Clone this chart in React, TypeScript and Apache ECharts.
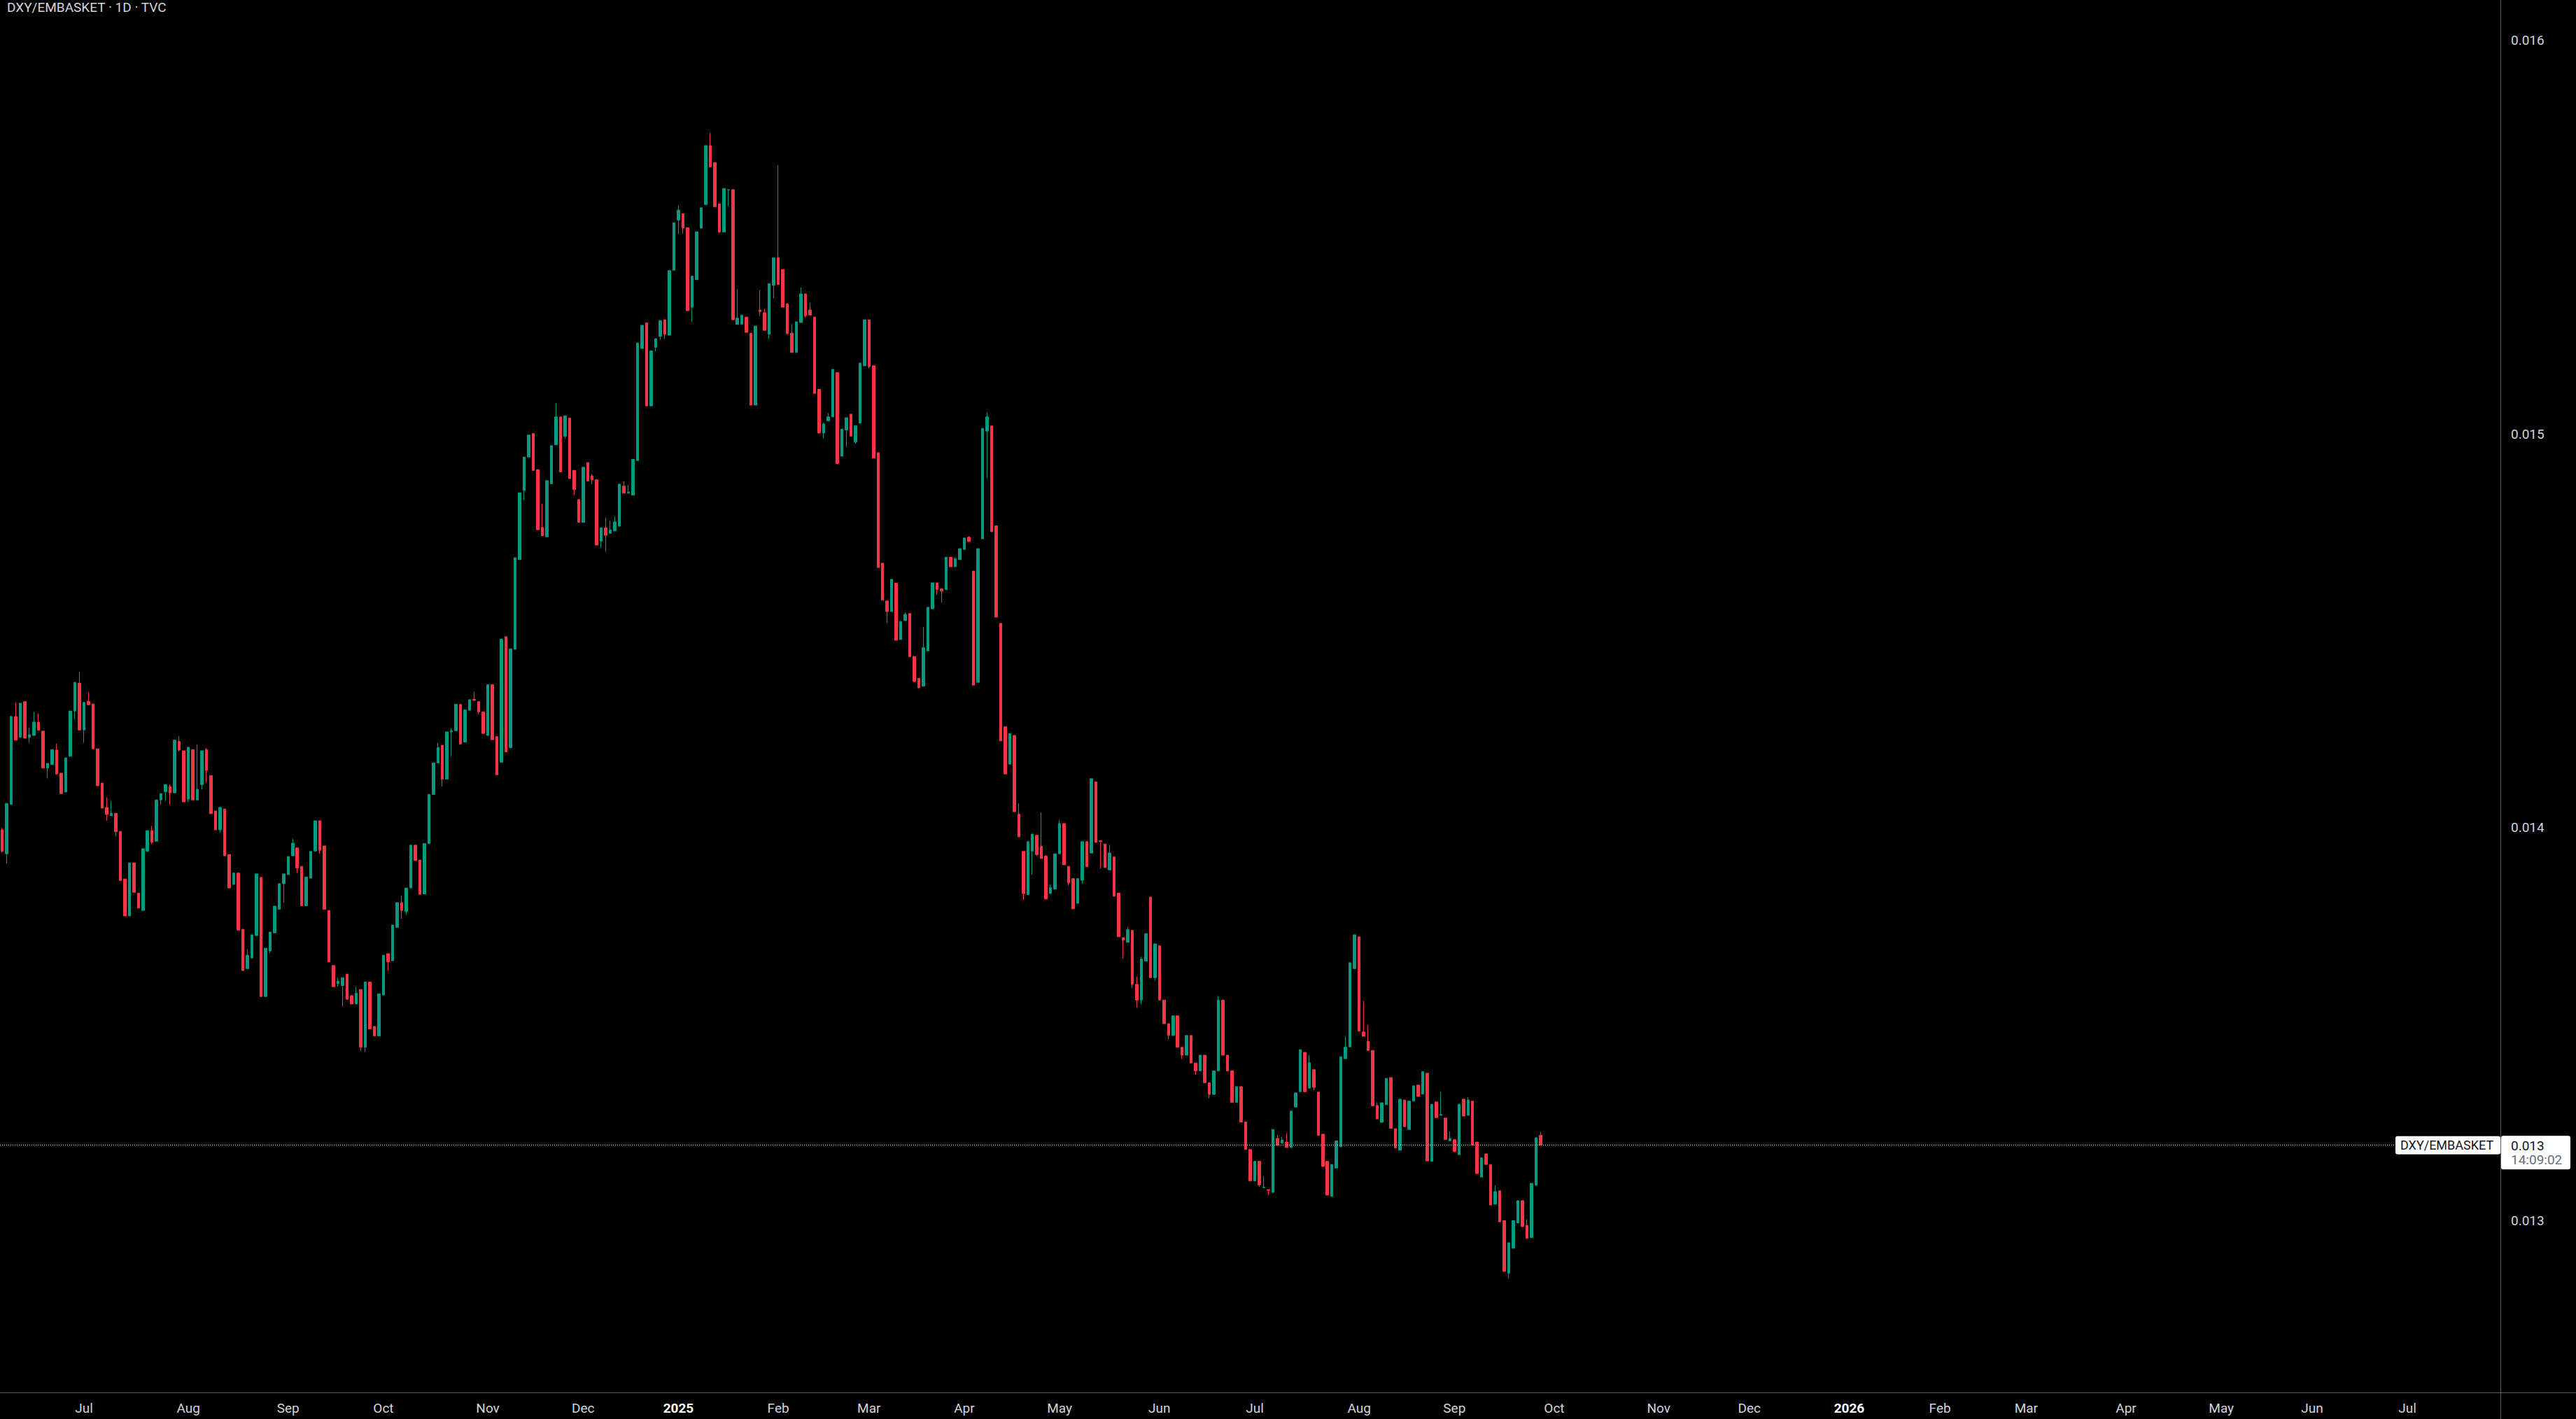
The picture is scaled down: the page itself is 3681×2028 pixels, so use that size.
import React, { useEffect, useRef } from "react";
import * as echarts from "echarts";

// ---------- text ----------
const TITLE = "DXY/EMBASKET · 1D · TVC";
const SYMBOL = "DXY/EMBASKET";
const COUNTDOWN = "14:09:02";
const MONTHS = ["Jan", "Feb", "Mar", "Apr", "May", "Jun", "Jul", "Aug", "Sep", "Oct", "Nov", "Dec"];

// ---------- axes ----------
const Y_TICKS = [0.013, 0.014, 0.015, 0.016];
const Y_MIN = 0.0125623;
const Y_MAX = 0.0161032;

// ---------- trading-day calendar ----------
const FIRST_DAY = "2024-06-05";
const SLOT_COUNT = 551; // daily slots incl. the empty future area
const HOLIDAYS = [
  "2024-12-25", "2025-01-01", "2025-04-18", "2025-12-25", "2026-01-01",
  "2026-01-19", "2026-02-16", "2026-04-03", "2026-05-25", "2026-06-19",
];

// ---------- OHLC (one value per trading day, from 2024-06-05) ----------
const open = [
  0.013993,0.013932,0.014058,0.014281,0.014228,0.014319,0.014228,0.014233,0.014267,0.014244,
  0.014150,0.014159,0.014196,0.014137,0.014089,0.014180,0.014295,0.014366,0.014247,0.014320,
  0.014313,0.014199,0.014112,0.014050,0.014029,0.014035,0.013989,0.013868,0.013774,0.013909,
  0.013832,0.013788,0.013939,0.013991,0.013964,0.014069,0.014090,0.014103,0.014087,0.014218,
  0.014194,0.014071,0.014197,0.014069,0.014108,0.014197,0.014131,0.014041,0.013993,0.014046,
  0.013930,0.013854,0.013883,0.013740,0.013640,0.013667,0.013724,0.013872,0.013569,0.013685,
  0.013731,0.013791,0.013856,0.013879,0.013927,0.013947,0.013900,0.013800,0.013870,0.013939,
  0.014016,0.013952,0.013788,0.013648,0.013602,0.013597,0.013626,0.013571,0.013550,0.013587,
  0.013440,0.013606,0.013493,0.013469,0.013573,0.013678,0.013660,0.013745,0.013808,0.013785,
  0.013845,0.013954,0.013916,0.013830,0.013958,0.014083,0.014163,0.014208,0.014122,0.014242,
  0.014245,0.014312,0.014216,0.014297,0.014325,0.014319,0.014293,0.014233,0.014362,0.014230,
  0.014165,0.014484,0.014202,0.014452,0.014680,0.014856,0.014941,0.015001,0.014909,0.014762,
  0.014738,0.014873,0.014972,0.015043,0.014994,0.015040,0.014907,0.014833,0.014775,0.014927,
  0.014893,0.014883,0.014727,0.014761,0.014747,0.014753,0.014765,0.014867,0.014849,0.014844,
  0.014932,0.015217,0.015282,0.015071,0.015220,0.015248,0.015290,0.015251,0.015416,0.015543,
  0.015560,0.015524,0.015322,0.015392,0.015523,0.015583,0.015733,0.015690,0.015585,0.015513,
  0.015620,0.015621,0.015278,0.015279,0.015297,0.015256,0.015073,0.015315,0.015308,0.015253,
  0.015378,0.015448,0.015418,0.015331,0.015256,0.015207,0.015283,0.015356,0.015315,0.015297,
  0.015113,0.015002,0.015033,0.015043,0.015156,0.014943,0.015010,0.015050,0.014979,0.015027,
  0.015173,0.015290,0.015173,0.014952,0.014671,0.014575,0.014548,0.014620,0.014477,0.014525,
  0.014543,0.014434,0.014378,0.014358,0.014448,0.014555,0.014621,0.014606,0.014604,0.014686,
  0.014662,0.014680,0.014706,0.014737,0.014651,0.014368,0.014733,0.015007,0.015020,0.014766,
  0.014518,0.014255,0.014160,0.014233,0.014033,0.013938,0.013828,0.013939,0.013979,0.013951,
  0.013926,0.013831,0.013842,0.013932,0.014009,0.013900,0.013869,0.013806,0.013865,0.013963,
  0.013934,0.014115,0.013965,0.013957,0.013891,0.013924,0.013832,0.013719,0.013707,0.013737,
  0.013600,0.013560,0.013659,0.013822,0.013617,0.013698,0.013560,0.013500,0.013470,0.013520,
  0.013440,0.013420,0.013470,0.013400,0.013380,0.013420,0.013350,0.013320,0.013380,0.013560,
  0.013420,0.013380,0.013300,0.013340,0.013250,0.013180,0.013100,0.013150,0.013083,0.013078,
  0.013071,0.013208,0.013196,0.013199,0.013185,0.013288,0.013327,0.013427,0.013336,0.013383,
  0.013326,0.013219,0.013150,0.013061,0.013133,0.013187,0.013411,0.013441,0.013640,0.013721,
  0.013479,0.013455,0.013432,0.013292,0.013249,0.013294,0.013363,0.013233,0.013178,0.013306,
  0.013231,0.013303,0.013344,0.013321,0.013374,0.013150,0.013301,0.013267,0.013260,0.013202,
  0.013205,0.013167,0.013308,0.013267,0.013303,0.013199,0.013110,0.013169,0.013142,0.013041,
  0.013075,0.012999,0.012865,0.012929,0.012993,0.013050,0.012987,0.012956,0.013089,0.013216,
];

const close = [
  0.013938,0.014060,0.014281,0.014221,0.014315,0.014226,0.014235,0.014267,0.014246,0.014150,
  0.014162,0.014197,0.014135,0.014085,0.014176,0.014295,0.014368,0.014247,0.014317,0.014311,
  0.014199,0.014105,0.014048,0.014032,0.014035,0.013988,0.013864,0.013774,0.013909,0.013834,
  0.013794,0.013945,0.013991,0.013961,0.014069,0.014085,0.014108,0.014087,0.014221,0.014196,
  0.014064,0.014203,0.014069,0.014096,0.014194,0.014144,0.014034,0.013993,0.014050,0.013927,
  0.013845,0.013883,0.013738,0.013635,0.013674,0.013726,0.013881,0.013569,0.013692,0.013733,
  0.013799,0.013856,0.013881,0.013925,0.013959,0.013896,0.013800,0.013873,0.013938,0.014016,
  0.013941,0.013791,0.013657,0.013594,0.013608,0.013617,0.013562,0.013550,0.013578,0.013440,
  0.013606,0.013487,0.013469,0.013576,0.013674,0.013657,0.013751,0.013808,0.013788,0.013845,
  0.013954,0.013915,0.013829,0.013958,0.014083,0.014163,0.014202,0.014122,0.014242,0.014245,
  0.014312,0.014211,0.014298,0.014324,0.014322,0.014293,0.014238,0.014362,0.014222,0.014133,
  0.014478,0.014191,0.014453,0.014685,0.014850,0.014941,0.014997,0.014907,0.014756,0.014741,
  0.014881,0.014970,0.015043,0.014903,0.015046,0.014886,0.014858,0.014775,0.014915,0.014880,
  0.014883,0.014717,0.014761,0.014742,0.014756,0.014776,0.014872,0.014849,0.014852,0.014935,
  0.015231,0.015276,0.015071,0.015211,0.015242,0.015288,0.015253,0.015415,0.015537,0.015569,
  0.015523,0.015313,0.015401,0.015514,0.015575,0.015733,0.015679,0.015577,0.015513,0.015624,
  0.015621,0.015290,0.015294,0.015302,0.015258,0.015073,0.015274,0.015311,0.015263,0.015382,
  0.015448,0.015380,0.015322,0.015255,0.015207,0.015285,0.015356,0.015300,0.015302,0.015103,
  0.015002,0.015025,0.015043,0.015164,0.014924,0.015012,0.015041,0.014994,0.015021,0.015180,
  0.015290,0.015171,0.014938,0.014660,0.014577,0.014548,0.014630,0.014475,0.014522,0.014541,
  0.014433,0.014370,0.014354,0.014456,0.014559,0.014621,0.014604,0.014600,0.014686,0.014662,
  0.014682,0.014708,0.014735,0.014726,0.014361,0.014708,0.015014,0.015043,0.014751,0.014534,
  0.014219,0.014135,0.014238,0.014039,0.013975,0.013831,0.013963,0.013982,0.013930,0.013920,
  0.013817,0.013846,0.013932,0.014009,0.013904,0.013858,0.013792,0.013869,0.013963,0.013899,
  0.014123,0.013961,0.013963,0.013897,0.013934,0.013824,0.013721,0.013712,0.013739,0.013600,
  0.013560,0.013664,0.013729,0.013617,0.013703,0.013560,0.013500,0.013470,0.013520,0.013440,
  0.013420,0.013470,0.013400,0.013380,0.013420,0.013350,0.013320,0.013380,0.013560,0.013420,
  0.013380,0.013300,0.013340,0.013250,0.013180,0.013100,0.013150,0.013090,0.013084,0.013076,
  0.013231,0.013191,0.013204,0.013185,0.013278,0.013324,0.013434,0.013327,0.013401,0.013338,
  0.013216,0.013137,0.013064,0.013142,0.013202,0.013416,0.013440,0.013655,0.013726,0.013481,
  0.013468,0.013432,0.013291,0.013258,0.013299,0.013361,0.013234,0.013184,0.013308,0.013238,
  0.013303,0.013342,0.013315,0.013378,0.013151,0.013295,0.013261,0.013269,0.013205,0.013208,
  0.013175,0.013295,0.013265,0.013306,0.013191,0.013119,0.013159,0.013142,0.013039,0.013073,
  0.012996,0.012870,0.012943,0.012999,0.013050,0.012984,0.012954,0.013094,0.013210,0.013191,
];

const high = [
  0.013998,0.014060,0.014283,0.014317,0.014315,0.014319,0.014253,0.014293,0.014288,0.014244,
  0.014162,0.014197,0.014212,0.014137,0.014176,0.014295,0.014368,0.014394,0.014317,0.014343,
  0.014313,0.014199,0.014112,0.014076,0.014066,0.014035,0.013989,0.013868,0.013909,0.013909,
  0.013832,0.013945,0.013991,0.014003,0.014069,0.014085,0.014108,0.014108,0.014221,0.014231,
  0.014194,0.014203,0.014197,0.014210,0.014194,0.014201,0.014131,0.014041,0.014050,0.014046,
  0.013930,0.013884,0.013883,0.013740,0.013689,0.013726,0.013881,0.013872,0.013692,0.013733,
  0.013799,0.013856,0.013881,0.013925,0.013970,0.013947,0.013900,0.013873,0.013938,0.014016,
  0.014016,0.013952,0.013788,0.013648,0.013616,0.013617,0.013626,0.013574,0.013593,0.013587,
  0.013606,0.013606,0.013493,0.013576,0.013674,0.013678,0.013751,0.013808,0.013826,0.013845,
  0.013954,0.013954,0.013916,0.013958,0.014083,0.014163,0.014214,0.014208,0.014242,0.014251,
  0.014312,0.014312,0.014298,0.014324,0.014344,0.014319,0.014293,0.014362,0.014362,0.014230,
  0.014478,0.014484,0.014453,0.014685,0.014850,0.014941,0.014997,0.015001,0.014909,0.014822,
  0.014881,0.014970,0.015078,0.015043,0.015046,0.015040,0.014907,0.014833,0.014915,0.014927,
  0.014898,0.014883,0.014761,0.014787,0.014779,0.014790,0.014872,0.014879,0.014870,0.014935,
  0.015231,0.015276,0.015282,0.015211,0.015242,0.015288,0.015290,0.015415,0.015537,0.015581,
  0.015560,0.015524,0.015401,0.015514,0.015575,0.015733,0.015765,0.015690,0.015585,0.015624,
  0.015621,0.015621,0.015368,0.015302,0.015297,0.015256,0.015274,0.015365,0.015318,0.015382,
  0.015448,0.015683,0.015418,0.015331,0.015279,0.015285,0.015372,0.015356,0.015333,0.015297,
  0.015113,0.015029,0.015053,0.015164,0.015156,0.015012,0.015041,0.015050,0.015021,0.015180,
  0.015290,0.015290,0.015173,0.014952,0.014671,0.014575,0.014630,0.014620,0.014525,0.014546,
  0.014543,0.014434,0.014378,0.014509,0.014559,0.014621,0.014621,0.014606,0.014686,0.014686,
  0.014686,0.014708,0.014735,0.014740,0.014651,0.014708,0.015014,0.015055,0.015020,0.014766,
  0.014518,0.014255,0.014238,0.014233,0.014060,0.013938,0.013963,0.013982,0.013979,0.014037,
  0.013929,0.013854,0.013932,0.014018,0.014009,0.013900,0.013869,0.013869,0.013963,0.013963,
  0.014123,0.014115,0.013965,0.013957,0.013955,0.013924,0.013832,0.013719,0.013746,0.013737,
  0.013620,0.013670,0.013729,0.013822,0.013703,0.013698,0.013560,0.013500,0.013520,0.013520,
  0.013440,0.013470,0.013470,0.013400,0.013420,0.013420,0.013350,0.013380,0.013570,0.013560,
  0.013420,0.013380,0.013340,0.013340,0.013250,0.013180,0.013150,0.013150,0.013112,0.013078,
  0.013231,0.013216,0.013212,0.013222,0.013278,0.013324,0.013434,0.013427,0.013420,0.013383,
  0.013326,0.013219,0.013150,0.013142,0.013202,0.013416,0.013467,0.013655,0.013726,0.013721,
  0.013557,0.013497,0.013432,0.013300,0.013299,0.013361,0.013363,0.013233,0.013308,0.013306,
  0.013303,0.013342,0.013344,0.013378,0.013374,0.013295,0.013301,0.013326,0.013260,0.013226,
  0.013205,0.013295,0.013309,0.013313,0.013303,0.013199,0.013159,0.013169,0.013142,0.013089,
  0.013075,0.012999,0.012943,0.012999,0.013050,0.013050,0.013002,0.013094,0.013210,0.013224,
];

const low = [
  0.013935,0.013907,0.014058,0.014221,0.014228,0.014226,0.014214,0.014233,0.014246,0.014150,
  0.014124,0.014159,0.014135,0.014085,0.014089,0.014180,0.014274,0.014247,0.014214,0.014311,
  0.014199,0.014105,0.014048,0.014016,0.014029,0.013977,0.013864,0.013774,0.013774,0.013834,
  0.013794,0.013788,0.013936,0.013956,0.013964,0.014057,0.014066,0.014057,0.014087,0.014192,
  0.014064,0.014063,0.014069,0.014069,0.014096,0.014112,0.014034,0.013993,0.013986,0.013927,
  0.013845,0.013854,0.013738,0.013635,0.013640,0.013667,0.013724,0.013569,0.013569,0.013680,
  0.013731,0.013791,0.013808,0.013879,0.013927,0.013883,0.013800,0.013800,0.013870,0.013939,
  0.013932,0.013791,0.013657,0.013594,0.013594,0.013544,0.013562,0.013550,0.013550,0.013430,
  0.013428,0.013487,0.013469,0.013469,0.013573,0.013635,0.013660,0.013745,0.013767,0.013777,
  0.013845,0.013915,0.013829,0.013830,0.013958,0.014083,0.014163,0.014103,0.014122,0.014180,
  0.014245,0.014211,0.014216,0.014297,0.014322,0.014288,0.014238,0.014233,0.014222,0.014133,
  0.014165,0.014191,0.014202,0.014452,0.014680,0.014831,0.014941,0.014907,0.014756,0.014741,
  0.014738,0.014873,0.014972,0.014903,0.014987,0.014886,0.014845,0.014775,0.014775,0.014880,
  0.014872,0.014717,0.014711,0.014700,0.014747,0.014753,0.014765,0.014849,0.014849,0.014844,
  0.014932,0.015217,0.015071,0.015071,0.015210,0.015239,0.015241,0.015251,0.015416,0.015508,
  0.015509,0.015313,0.015285,0.015392,0.015523,0.015583,0.015679,0.015577,0.015510,0.015513,
  0.015579,0.015290,0.015278,0.015277,0.015258,0.015073,0.015073,0.015300,0.015263,0.015242,
  0.015345,0.015380,0.015322,0.015252,0.015207,0.015207,0.015283,0.015296,0.015302,0.015103,
  0.015002,0.014988,0.015033,0.015043,0.014924,0.014943,0.014967,0.014994,0.014975,0.015027,
  0.015173,0.015167,0.014938,0.014660,0.014577,0.014520,0.014548,0.014475,0.014477,0.014525,
  0.014433,0.014370,0.014354,0.014358,0.014448,0.014555,0.014591,0.014571,0.014604,0.014662,
  0.014662,0.014680,0.014706,0.014726,0.014361,0.014368,0.014733,0.014887,0.014751,0.014534,
  0.014219,0.014135,0.014160,0.014039,0.013975,0.013815,0.013828,0.013879,0.013927,0.013920,
  0.013817,0.013831,0.013842,0.013932,0.013904,0.013852,0.013792,0.013806,0.013856,0.013899,
  0.013934,0.013961,0.013895,0.013897,0.013891,0.013824,0.013721,0.013666,0.013707,0.013590,
  0.013540,0.013550,0.013659,0.013617,0.013610,0.013560,0.013500,0.013460,0.013470,0.013440,
  0.013410,0.013420,0.013400,0.013370,0.013380,0.013350,0.013310,0.013320,0.013380,0.013420,
  0.013380,0.013300,0.013300,0.013250,0.013180,0.013100,0.013100,0.013085,0.013083,0.013063,
  0.013071,0.013191,0.013196,0.013185,0.013185,0.013288,0.013327,0.013327,0.013336,0.013331,
  0.013216,0.013137,0.013064,0.013061,0.013133,0.013187,0.013411,0.013441,0.013640,0.013481,
  0.013468,0.013432,0.013291,0.013258,0.013249,0.013294,0.013234,0.013184,0.013178,0.013238,
  0.013231,0.013303,0.013315,0.013321,0.013151,0.013150,0.013261,0.013267,0.013205,0.013202,
  0.013173,0.013167,0.013265,0.013267,0.013191,0.013119,0.013110,0.013142,0.013039,0.013041,
  0.012996,0.012870,0.012852,0.012929,0.012993,0.012984,0.012954,0.012956,0.013089,0.013191,
];

// ---------- style ----------
const UP = "#089981";
const DOWN = "#F23645";
const BG = "#000000";
const TEXT = "#d1d4dc";
const AXIS = "#5d5d5d";
const FONT = "Roboto, 'Noto Sans', sans-serif";
const W = 3681;
const H = 2028;
const PLOT_RIGHT = 3573;
const PLOT_BOTTOM = 1990;
const LABEL_LEFT = 3423;

function buildDates(): string[] {
  const hol = new Set(HOLIDAYS);
  const out: string[] = [];
  const d = new Date(FIRST_DAY + "T00:00:00Z");
  while (out.length < SLOT_COUNT) {
    const wd = d.getUTCDay();
    const s = d.toISOString().slice(0, 10);
    if (wd !== 0 && wd !== 6 && !hol.has(s)) out.push(s);
    d.setUTCDate(d.getUTCDate() + 1);
  }
  return out;
}

export default function App() {
  const ref = useRef<HTMLDivElement>(null);

  useEffect(() => {
    if (!ref.current) return;
    const chart = echarts.init(ref.current, undefined, { renderer: "svg" });
    const dates = buildDates();
    const labelIdx = new Set<number>();
    for (let i = 1; i < dates.length; i++) {
      if (dates[i].slice(0, 7) !== dates[i - 1].slice(0, 7)) labelIdx.add(i);
    }
    const candles = open.map((o, i) => [o, close[i], low[i], high[i]]);
    const lastClose = close[close.length - 1];
    const slot = PLOT_RIGHT / (SLOT_COUNT - 0.5);

    chart.setOption({
      animation: false,
      backgroundColor: BG,
      title: {
        text: TITLE,
        left: 10,
        top: 1,
        padding: 0,
        textStyle: { color: TEXT, fontSize: 19, fontWeight: "normal", fontFamily: FONT },
      },
      grid: {
        left: -slot / 2,
        right: W - PLOT_RIGHT,
        top: 0,
        bottom: H - PLOT_BOTTOM,
        containLabel: false,
      },
      xAxis: {
        type: "category",
        data: dates,
        boundaryGap: true,
        axisLine: { show: true, lineStyle: { color: AXIS, width: 1 } },
        axisTick: { show: false },
        splitLine: { show: false },
        axisLabel: {
          interval: (index: number) => labelIdx.has(index),
          formatter: (value: string) => {
            const m = parseInt(value.slice(5, 7), 10) - 1;
            if (m === 0) return "{y|" + value.slice(0, 4) + "}";
            return MONTHS[m];
          },
          color: TEXT,
          fontSize: 19,
          fontFamily: FONT,
          margin: 13,
          rich: {
            y: { color: "#ffffff", fontSize: 19, fontWeight: "bold", fontFamily: FONT },
          },
        },
      },
      yAxis: {
        type: "value",
        position: "right",
        min: Y_MIN,
        max: Y_MAX,
        scale: true,
        splitLine: { show: false },
        axisLine: { show: true, lineStyle: { color: AXIS, width: 1 } },
        axisTick: { show: false },
        axisLabel: {
          customValues: Y_TICKS,
          formatter: (v: number) => v.toFixed(3),
          color: TEXT,
          fontSize: 19,
          fontFamily: FONT,
          margin: 15,
        },
      },
      series: [
        {
          type: "candlestick",
          data: candles,
          barWidth: 4,
          itemStyle: {
            color: UP,
            color0: DOWN,
            borderColor: UP,
            borderColor0: DOWN,
            borderWidth: 1,
          },
        },
      ],
    });

    const yp = chart.convertToPixel({ yAxisIndex: 0 }, lastClose) as number;
    const yl = Math.floor(yp) + 0.5;
    chart.setOption({
      graphic: [
        {
          type: "line",
          silent: true,
          z: 90,
          shape: { x1: 0, y1: yl, x2: LABEL_LEFT, y2: yl },
          style: { stroke: "#ffffff", lineWidth: 1, lineDash: [1, 2] },
        },
        {
          type: "line",
          silent: true,
          shape: { x1: PLOT_RIGHT, y1: PLOT_BOTTOM + 0.5, x2: W, y2: PLOT_BOTTOM + 0.5 },
          style: { stroke: AXIS, lineWidth: 1 },
        },
        {
          type: "line",
          silent: true,
          shape: { x1: PLOT_RIGHT + 0.5, y1: PLOT_BOTTOM, x2: PLOT_RIGHT + 0.5, y2: H },
          style: { stroke: AXIS, lineWidth: 1 },
        },
        {
          type: "rect",
          z: 100,
          shape: { x: LABEL_LEFT, y: yp - 13, width: PLOT_RIGHT - LABEL_LEFT, height: 26, r: 3 },
          style: { fill: "#ffffff" },
        },
        {
          type: "text",
          z: 101,
          x: 3430,
          y: yp,
          style: {
            text: SYMBOL,
            fill: "#131722",
            fontSize: 18,
            fontFamily: FONT,
            align: "left",
            verticalAlign: "middle",
          },
        },
        {
          type: "rect",
          z: 100,
          shape: { x: 3574, y: yp - 13.5, width: 99, height: 48, r: 3 },
          style: { fill: "#ffffff" },
        },
        {
          type: "text",
          z: 101,
          x: 3588,
          y: yp + 1,
          style: {
            text: lastClose.toFixed(3),
            fill: "#131722",
            fontSize: 19,
            fontFamily: FONT,
            align: "left",
            verticalAlign: "middle",
          },
        },
        {
          type: "text",
          z: 101,
          x: 3588,
          y: yp + 21,
          style: {
            text: COUNTDOWN,
            fill: "#6a6d78",
            fontSize: 19,
            fontFamily: FONT,
            align: "left",
            verticalAlign: "middle",
          },
        },
      ],
    });

    return () => chart.dispose();
  }, []);

  return (
    <div
      ref={ref}
      style={{ position: "fixed", left: 0, top: 0, width: W, height: H, background: BG }}
    />
  );
}
